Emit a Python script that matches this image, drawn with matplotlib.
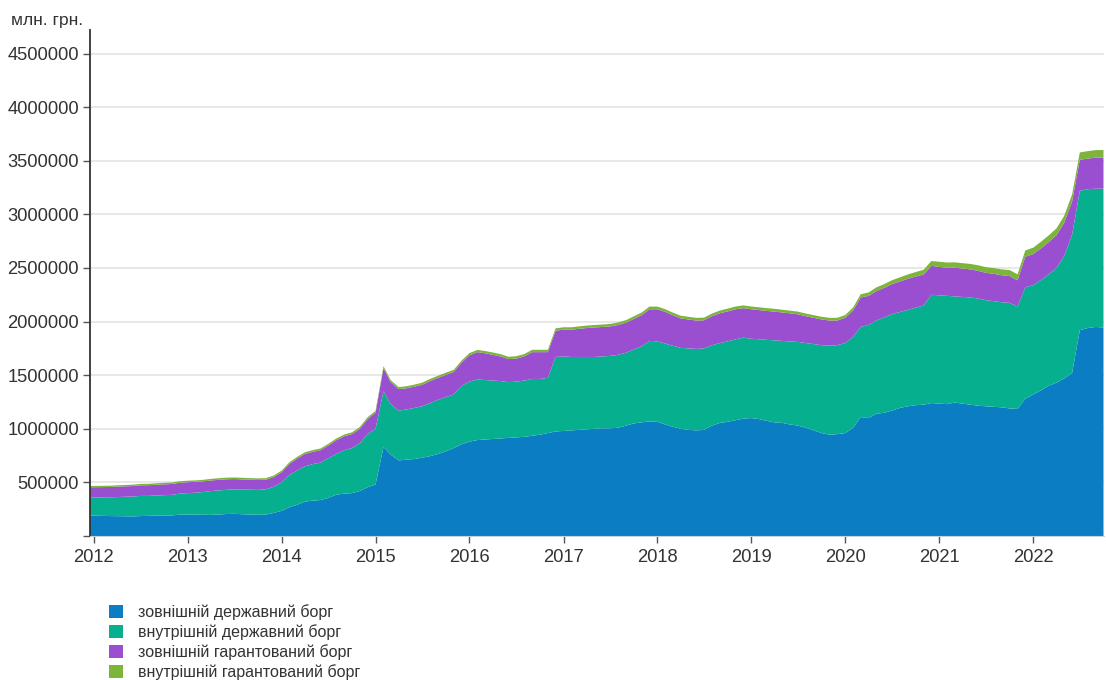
import matplotlib.pyplot as plt
import matplotlib.dates as mdates
from matplotlib.patches import Patch
from matplotlib.ticker import FuncFormatter
import pandas as pd

# державний та гарантований борг, млрд грн (щомісяця, грудень 2011 - жовтень 2022)
ext_state = [
    192,
    190, 188, 186, 185, 184, 183, 186, 188, 190, 191, 192, 200,
    200, 199, 198, 197, 200, 205, 207, 203, 200, 198, 200, 215,
    235, 270, 290, 320, 330, 335, 355, 385, 395, 400, 420, 455,
    480, 830, 760, 705, 712, 718, 730, 745, 765, 790, 820, 855,
    880, 895, 900, 905, 910, 915, 920, 925, 935, 945, 960, 975,
    980, 985, 990, 995, 1000, 1005, 1005, 1010, 1030, 1050, 1060, 1070,
    1065, 1040, 1020, 1000, 990, 985, 990, 1030, 1055, 1065, 1080, 1095,
    1100, 1090, 1075, 1060, 1055, 1040, 1030, 1010, 985, 960, 945, 950,
    960, 1010, 1110, 1100, 1140, 1150, 1170, 1195, 1210, 1220, 1225, 1240,
    1235, 1230, 1245, 1235, 1225, 1215, 1210, 1205, 1200, 1190, 1185, 1280,
    1320, 1360, 1400, 1430, 1470, 1520, 1920, 1940, 1950, 1945,
]
int_state = [
    168,
    170, 172, 175, 178, 182, 185, 188, 186, 188, 190, 192, 195,
    200, 205, 212, 222, 225, 226, 228, 230, 232, 232, 235, 245,
    265, 300, 320, 330, 340, 350, 370, 380, 405, 420, 445, 495,
    520, 520, 470, 465, 468, 477, 480, 495, 505, 505, 500, 545,
    560, 565, 555, 545, 535, 520, 520, 525, 530, 520, 515, 695,
    695, 685, 680, 675, 670, 670, 675, 680, 680, 690, 710, 750,
    750, 755, 755, 755, 760, 760, 760, 750, 745, 750, 755, 755,
    740, 745, 755, 765, 765, 775, 780, 790, 805, 820, 830, 830,
    840, 850, 840, 870, 870, 890, 900, 895, 900, 910, 925, 1010,
    1010, 1010, 990, 995, 1000, 1000, 990, 985, 980, 985, 955, 1040,
    1020, 1030, 1040, 1070, 1140, 1290, 1300, 1295, 1290, 1295,
]
ext_guar = [
    95,
    95, 96, 96, 97, 97, 98, 99, 100, 100, 101, 101, 102,
    102, 101, 100, 99, 99, 98, 96, 95, 93, 92, 90, 89,
    95, 105, 110, 115, 115, 115, 118, 128, 130, 130, 135, 140,
    150, 215, 205, 200, 198, 198, 200, 205, 205, 208, 210, 215,
    245, 255, 250, 240, 230, 215, 215, 225, 250, 250, 240, 245,
    250, 255, 262, 270, 275, 275, 275, 278, 280, 285, 290, 295,
    300, 295, 285, 275, 270, 265, 262, 270, 278, 280, 280, 275,
    275, 272, 270, 268, 265, 262, 258, 250, 245, 240, 235, 230,
    235, 245, 275, 270, 275, 275, 280, 285, 290, 290, 290, 270,
    265, 262, 268, 265, 262, 258, 255, 255, 252, 250, 245, 285,
    290, 295, 300, 305, 310, 310, 290, 285, 290, 290,
]
int_guar = [
    12,
    12, 12, 12, 13, 13, 13, 13, 13, 14, 14, 14, 14,
    14, 14, 14, 15, 15, 15, 15, 15, 15, 15, 15, 15,
    15, 15, 16, 16, 16, 16, 16, 16, 16, 17, 17, 17,
    18, 19, 19, 19, 19, 19, 20, 20, 20, 20, 20, 20,
    21, 21, 21, 22, 22, 22, 22, 22, 22, 22, 22, 22,
    22, 22, 23, 23, 23, 23, 23, 24, 24, 24, 25, 25,
    25, 25, 25, 25, 25, 25, 25, 25, 25, 26, 26, 26,
    26, 26, 26, 26, 26, 25, 25, 25, 25, 25, 25, 25,
    26, 28, 30, 32, 34, 35, 36, 38, 40, 42, 44, 45,
    48, 49, 50, 50, 51, 52, 53, 54, 55, 56, 56, 58,
    60, 62, 62, 64, 65, 66, 68, 70, 70, 70,
]

labels = [
    'зовнішній державний борг',
    'внутрішній державний борг',
    'зовнішній гарантований борг',
    'внутрішній гарантований борг',
]
colors = ['#0b7dc2', '#06b08e', '#9a4fd0', '#7db43a']

months = pd.date_range('2011-12-01', '2022-10-01', freq='MS')
series = [[v * 1000 for v in s] for s in (ext_state, int_state, ext_guar, int_guar)]

plt.rcParams['font.family'] = ['Liberation Sans', 'DejaVu Sans']
txt = '#333333'

fig = plt.figure(figsize=(11.06, 6.8), dpi=100)
ax = fig.add_axes([90 / 1106, 1 - 536 / 680, 1014 / 1106, 506 / 680])

ax.stackplot(months, *series, colors=colors, linewidth=0)

ax.set_xlim(pd.Timestamp('2011-12-18'), pd.Timestamp('2022-10-03'))
ax.set_ylim(0, 4.72e6)
ax.set_yticks(range(0, 5000000, 500000))
ax.yaxis.set_major_formatter(FuncFormatter(lambda v, p: '' if v == 0 else f'{int(v)}'))
ax.xaxis.set_major_locator(mdates.YearLocator())
ax.xaxis.set_major_formatter(mdates.DateFormatter('%Y'))

ax.yaxis.grid(True, color='#e6e6e6', lw=1.3)
ax.set_axisbelow(True)
for s in ('top', 'right'):
    ax.spines[s].set_visible(False)
ax.spines['left'].set_color('#333333')
ax.spines['left'].set_linewidth(1.3)
ax.spines['bottom'].set_color('#c5d3e0')
ax.tick_params(axis='y', length=5, width=1, color='#555555', labelsize=13.2, labelcolor=txt, pad=3)
ax.tick_params(axis='x', length=5, width=1, color='#555555', labelsize=13.2, labelcolor=txt, pad=4)

fig.text(11 / 1106, 1 - 20 / 680, 'млн. грн.', fontsize=12.5, color=txt, va='center')

handles = [Patch(facecolor=c, edgecolor='none') for c in colors]
fig.legend(handles, labels, loc='upper left', bbox_to_anchor=(109 / 1106, 1 - 604 / 680),
           frameon=False, fontsize=11.5, labelcolor=txt, handlelength=0.85, handleheight=0.85,
           labelspacing=0.26, handletextpad=0.95, borderpad=0, borderaxespad=0)

fig.savefig('out.png', dpi=100)
